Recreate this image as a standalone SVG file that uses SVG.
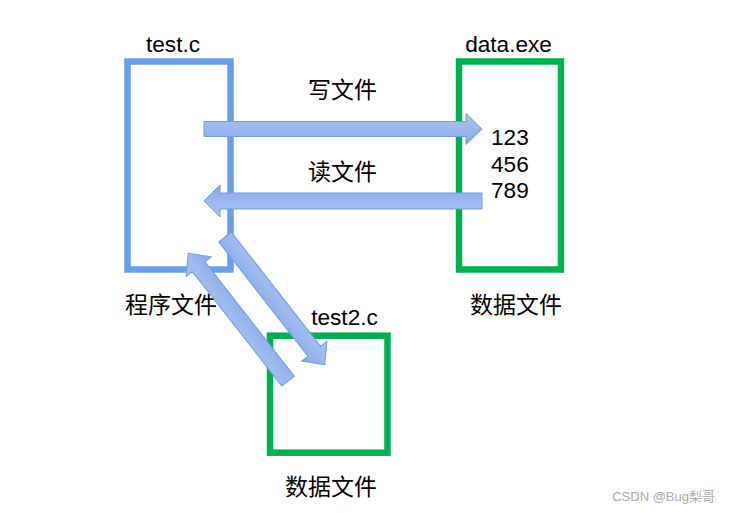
<svg xmlns="http://www.w3.org/2000/svg" width="732" height="513" viewBox="0 0 732 513">
<style>
.t{font-family:"Liberation Sans","Noto Sans CJK SC",sans-serif;font-size:22.6px;fill:#000}
.c{font-family:"Liberation Sans","Noto Sans CJK SC",sans-serif;font-size:23px;fill:#000}
.blue{fill:none;stroke:#6a9ee9;stroke-width:6.5}
.green{fill:none;stroke:#00b050;stroke-width:6.5}
.arr{fill:url(#g);stroke:#6f9de6;stroke-width:1}
</style>
<defs>
<linearGradient id="g" x1="0" y1="0" x2="0" y2="1">
<stop offset="0" stop-color="#a8c2f0"/>
<stop offset="0.5" stop-color="#9cb9ee"/>
<stop offset="1" stop-color="#86a9e8"/>
</linearGradient>
</defs>
<rect width="732" height="513" fill="#fff"/>
<g id="testc">
<rect class="blue" x="127.5" y="61.5" width="103" height="208"/>
<text class="t" x="173" y="52" text-anchor="middle">test.c</text>
<text class="c" x="125" y="313">程序文件</text>
</g>
<g id="dataexe">
<rect class="green" x="459" y="61.5" width="102" height="208"/>
<text class="t" x="508.5" y="52" text-anchor="middle">data.exe</text>
<text class="t" x="491" y="145">123</text>
<text class="t" x="491" y="172">456</text>
<text class="t" x="491" y="198">789</text>
<text class="c" x="470" y="313">数据文件</text>
</g>
<g id="test2c">
<rect class="green" x="270" y="335.7" width="117.5" height="117"/>
<text class="t" x="344.5" y="325" text-anchor="middle">test2.c</text>
<text class="c" x="285" y="495">数据文件</text>
</g>
<g id="connectors">
<path class="arr" transform="translate(204,129)" d="M0,-7.5 H262 V-15.5 L278,0 L262,15.5 V7.5 H0 Z"/>
<text class="c" x="308" y="98">写文件</text>
<path class="arr" transform="translate(482,201) rotate(180)" d="M0,-8 H262 V-16 L278,0 L262,16 V8 H0 Z"/>
<text class="c" x="308" y="180">读文件</text>
<path class="arr" transform="translate(288,381) rotate(232)" d="M0,-8 H145 V-16 L162,0 L145,16 V8 H0 Z"/>
<path class="arr" transform="translate(225,237) rotate(52)" d="M0,-8 H145 V-16 L162,0 L145,16 V8 H0 Z"/>
</g>
<text x="715" y="501" text-anchor="end" style="font-family:'Liberation Sans','Noto Sans CJK SC',sans-serif;font-size:13px;fill:#aaa">CSDN @Bug梨哥</text>
</svg>
